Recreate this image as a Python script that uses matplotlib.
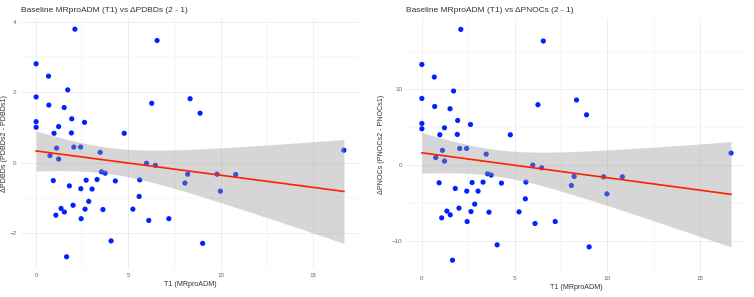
import numpy as np
import matplotlib
matplotlib.use("Agg")
import matplotlib.pyplot as plt

# valori
t1 = [0.0, 0.67, 1.71, 0.0, 2.10, 6.55, 6.26, 8.34, 8.88, 0.69,
      1.52, 0.0, 0.0, 1.93, 2.62, 1.22, 0.97, 1.91, 4.77, 2.04,
      2.41, 1.11, 16.67, 0.75, 1.22, 3.47, 5.98, 6.46, 3.54, 3.74,
      8.21, 9.80, 10.81, 0.93, 2.71, 3.30, 4.29, 5.61, 8.06, 1.80,
      2.42, 3.03, 9.98, 5.58, 2.85, 2.00, 1.35, 2.65, 3.62, 5.24,
      1.53, 1.07, 2.44, 6.10, 7.19, 4.06, 9.02, 1.65]

delta_pdbds = [2.81, 2.46, 2.07, 1.87, 3.79, 3.47, 1.69, 1.82, 1.41, 1.64,
               1.57, 1.17, 1.01, 1.25, 1.15, 1.03, 0.84, 0.85, 0.84, 0.45,
               0.45, 0.42, 0.36, 0.21, 0.11, 0.30, -0.01, -0.07, -0.25, -0.29,
               -0.32, -0.32, -0.33, -0.50, -0.49, -0.47, -0.51, -0.48, -0.57, -0.65,
               -0.73, -0.74, -0.80, -0.95, -1.09, -1.20, -1.29, -1.31, -1.32, -1.31,
               -1.39, -1.48, -1.58, -1.63, -1.58, -2.21, -2.28, -2.66]

delta_pnocs = [13.3, 11.64, 9.79, 8.81, 17.94, 16.4, 7.98, 8.6, 6.65, 7.75,
               7.45, 5.50, 4.80, 5.90, 5.37, 4.93, 4.01, 4.05, 4.01, 2.20,
               2.20, 1.95, 1.59, 1.0, 0.53, 1.45, 0.0, -0.36, -1.15, -1.32,
               -1.5, -1.55, -1.55, -2.34, -2.30, -2.25, -2.38, -2.25, -2.69, -3.09,
               -3.44, -3.44, -3.80, -4.46, -5.16, -5.69, -6.08, -6.14, -6.22, -6.18,
               -6.57, -6.97, -7.46, -7.72, -7.46, -10.54, -10.81, -12.57]

T_CRIT = 2.003  # qt(0.975, 56)
FONT = "Liberation Sans"


def pannello(ax, x, y, titolo, ylabel, yticks, ygrid_minor, ylab_x):
    x = np.array(x)
    y = np.array(y)

    # Retta di regressione e intervallo di confidenza al 95%
    b, a = np.polyfit(x, y, 1)
    n = len(x)
    res = y - (a + b * x)
    s = np.sqrt(np.sum(res ** 2) / (n - 2))
    sxx = np.sum((x - x.mean()) ** 2)
    xs = np.linspace(x.min(), x.max(), 80)
    ys = a + b * xs
    se = s * np.sqrt(1 / n + (xs - x.mean()) ** 2 / sxx)

    ax.scatter(x, y, s=14, color="#0022FF", edgecolors="none", zorder=3)
    ax.fill_between(xs, ys - T_CRIT * se, ys + T_CRIT * se,
                    color="#999999", alpha=0.4, linewidth=0, zorder=4)
    ax.plot(xs, ys, color="#FF2200", linewidth=1.2, zorder=5)

    # limiti con espansione del 5%
    dx = (x.max() - x.min()) * 0.05
    dy = (y.max() - y.min()) * 0.05
    ax.set_xlim(x.min() - dx, x.max() + dx)
    ax.set_ylim(y.min() - dy, y.max() + dy)

    ax.set_xticks([0, 5, 10, 15])
    ax.set_xticks([2.5, 7.5, 12.5], minor=True)
    ax.set_yticks(yticks)
    ax.set_yticks(ygrid_minor, minor=True)
    ax.grid(True, which="major", color="#EBEBEB", linewidth=0.6)
    ax.grid(True, which="minor", color="#EBEBEB", linewidth=0.35)
    ax.set_axisbelow(True)
    for sp in ax.spines.values():
        sp.set_visible(False)
    ax.tick_params(which="both", length=0, labelsize=4.5, labelcolor="#666666", pad=3)
    for lab in ax.get_xticklabels() + ax.get_yticklabels():
        lab.set_family(FONT)

    ax.set_xlabel("T1 (MRproADM)", fontsize=5.1, family=FONT, labelpad=2, color="#333333")
    ax.set_ylabel(ylabel, fontsize=5.1, family=FONT, color="#333333")
    ax.yaxis.set_label_coords(ylab_x, 0.5)
    ax.set_title(titolo, fontsize=6.0, family=FONT, loc="left", pad=4, color="#333333")


fig = plt.figure(figsize=(7.54, 2.97), dpi=100)
ax1 = fig.add_axes([0.0275, 0.095, 0.449, 0.845])
ax2 = fig.add_axes([0.539, 0.085, 0.451, 0.855])

pannello(ax1, t1, delta_pdbds, "Baseline MRproADM (T1) vs ΔPDBDs (2 - 1)",
         "ΔPDBDs (PDBDs2 - PDBDs1)", [-2, 0, 2, 4], [-3, -1, 1, 3], -0.038)
pannello(ax2, t1, delta_pnocs, "Baseline MRproADM (T1) vs ΔPNOCs (2 - 1)",
         "ΔPNOCs (PNOCs2 - PNOCs1)", [-10, 0, 10], [-5, 5, 15], -0.063)

fig.savefig("out.png", dpi=100)
